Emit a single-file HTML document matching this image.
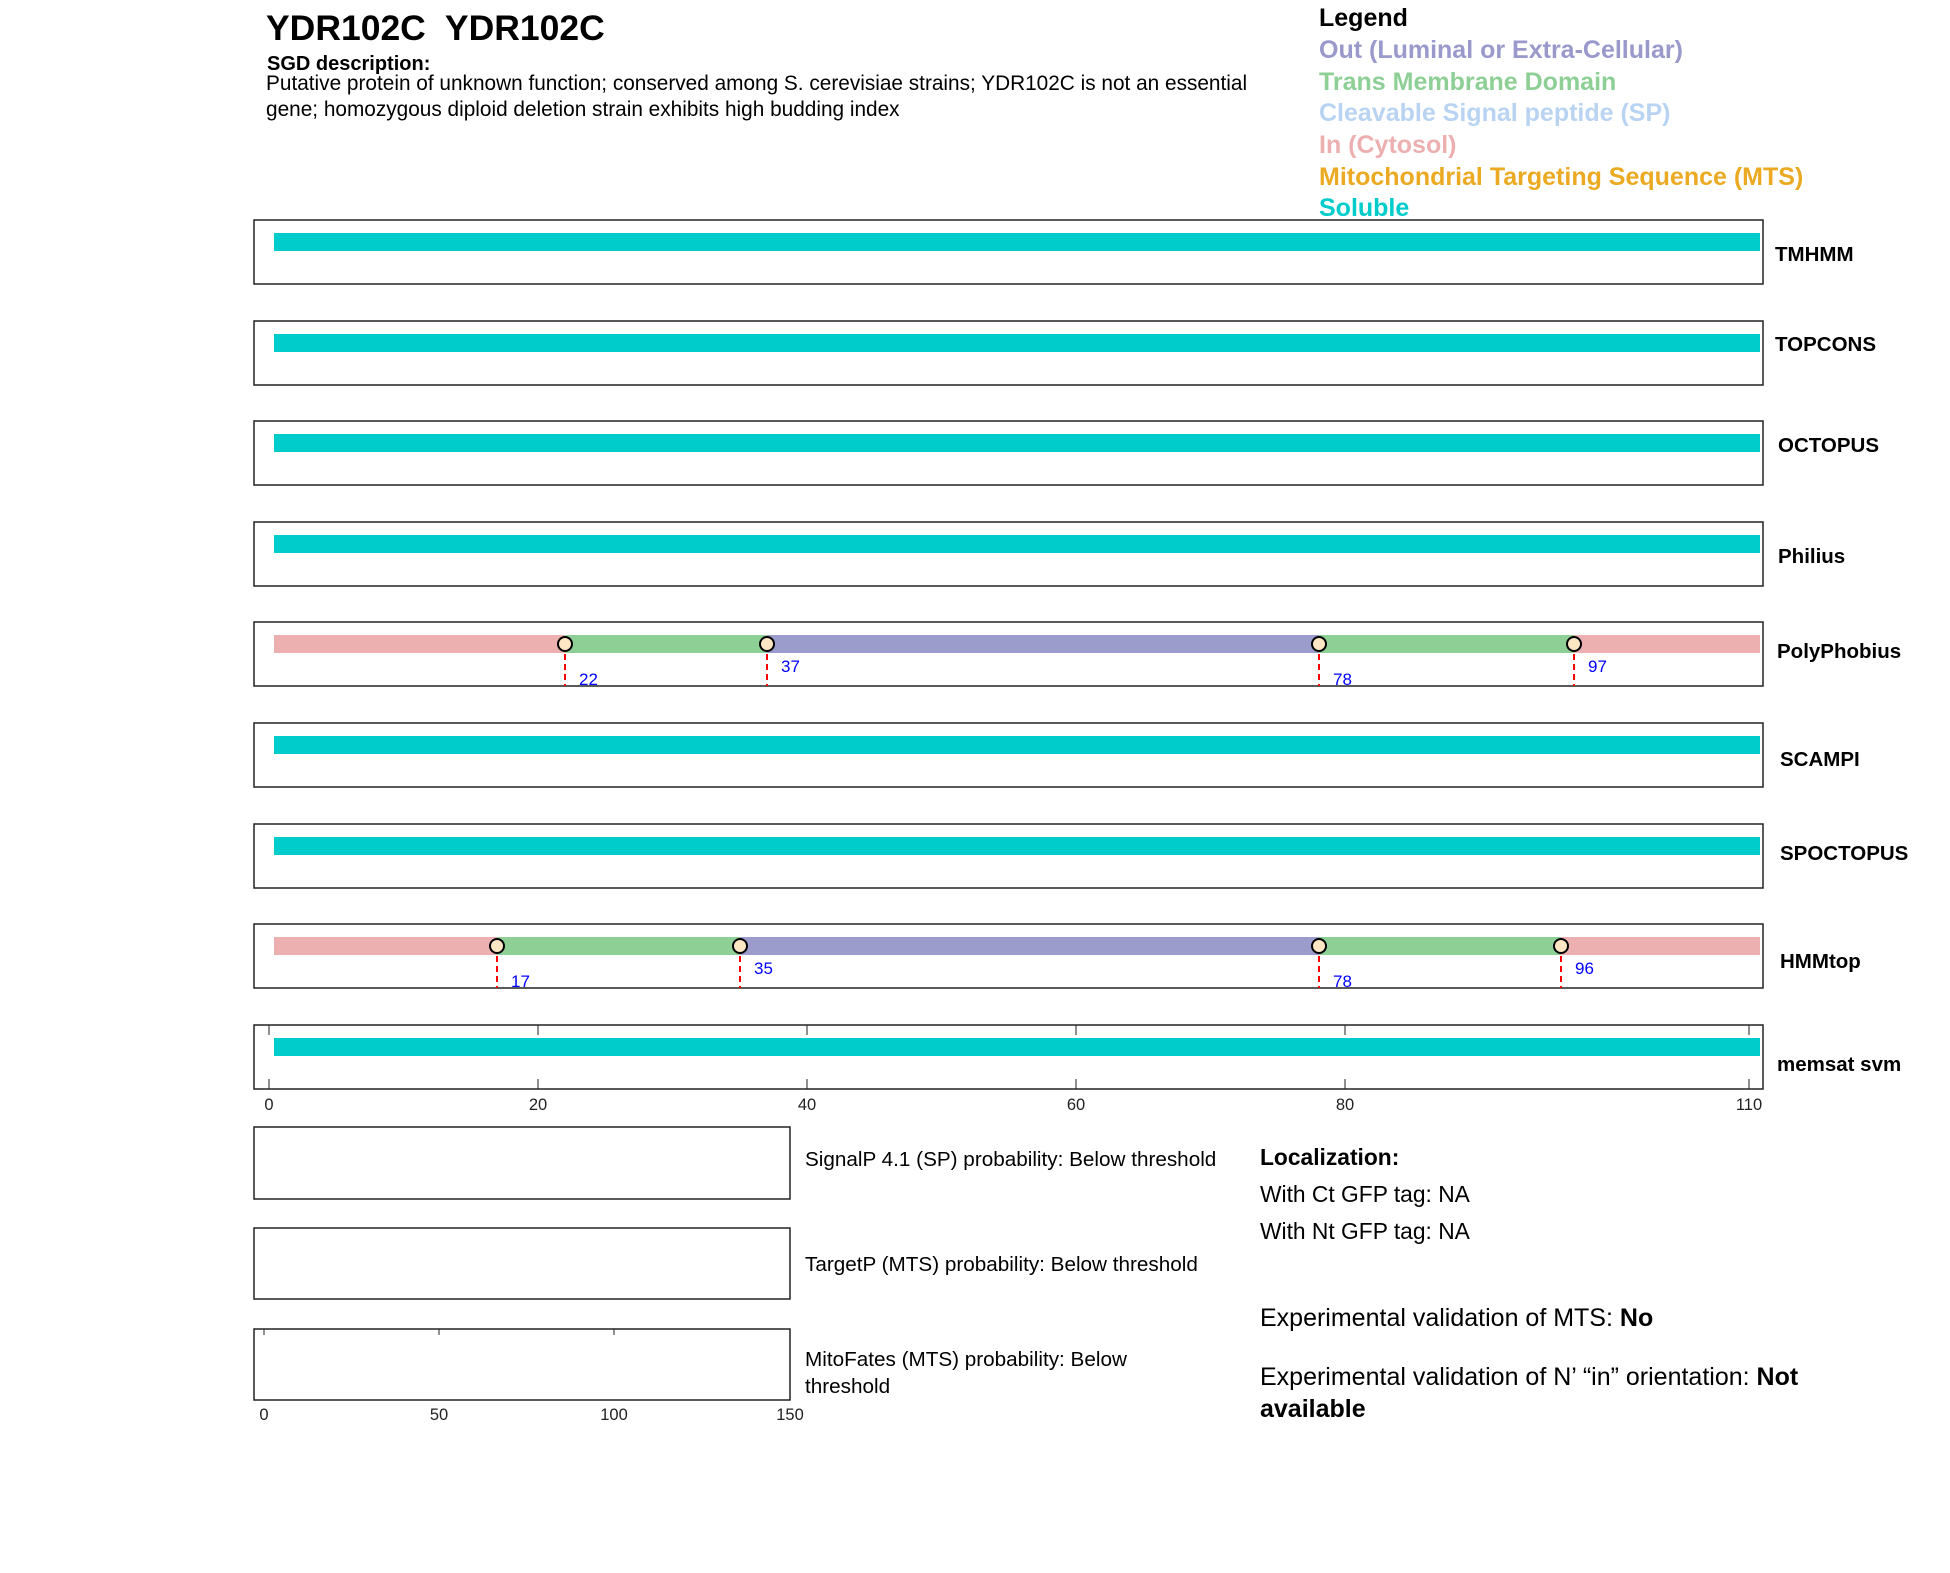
<!DOCTYPE html>
<html><head><meta charset="utf-8"><style>
html,body{margin:0;padding:0;background:#fff}
svg{display:block}
text{font-family:"Liberation Sans",Arial,sans-serif}
</style></head><body>
<svg width="1950" height="1573" viewBox="0 0 1950 1573" xmlns="http://www.w3.org/2000/svg">
<text x="266" y="40" font-size="35.5" font-weight="bold" xml:space="preserve">YDR102C  YDR102C</text>
<text x="267" y="70" font-size="20" font-weight="bold">SGD description:</text>
<text x="266" y="90" font-size="20.8">Putative protein of unknown function; conserved among S. cerevisiae strains; YDR102C is not an essential</text>
<text x="266" y="116" font-size="20.8">gene; homozygous diploid deletion strain exhibits high budding index</text>

<g font-size="25" font-weight="bold">
<text x="1319" y="26" fill="#000">Legend</text>
<text x="1319" y="58" fill="#9999CC">Out (Luminal or Extra-Cellular)</text>
<text x="1319" y="90" fill="#8ECF96">Trans Membrane Domain</text>
<text x="1319" y="121" fill="#B8D4F2">Cleavable Signal peptide (SP)</text>
<text x="1319" y="153" fill="#EDB0B0">In (Cytosol)</text>
<text x="1319" y="185" fill="#EBAA22">Mitochondrial Targeting Sequence (MTS)</text>
<text x="1319" y="216" fill="#00CCCC">Soluble</text>
</g>

<g fill="none" stroke="#222" stroke-width="1.5">
<rect x="254" y="220" width="1509" height="64"/>
<rect x="254" y="321" width="1509" height="64"/>
<rect x="254" y="421" width="1509" height="64"/>
<rect x="254" y="522" width="1509" height="64"/>
<rect x="254" y="622" width="1509" height="64"/>
<rect x="254" y="723" width="1509" height="64"/>
<rect x="254" y="824" width="1509" height="64"/>
<rect x="254" y="924" width="1509" height="64"/>
<rect x="254" y="1025" width="1509" height="64"/>
</g>

<g fill="#00CCCC">
<rect x="274" y="233" width="1486" height="18"/>
<rect x="274" y="334" width="1486" height="18"/>
<rect x="274" y="434" width="1486" height="18"/>
<rect x="274" y="535" width="1486" height="18"/>
<rect x="274" y="736" width="1486" height="18"/>
<rect x="274" y="837" width="1486" height="18"/>
<rect x="274" y="1038" width="1486" height="18"/>
</g>

<g>
<rect x="274" y="635" width="291" height="18" fill="#EDB0B0"/>
<rect x="565" y="635" width="202" height="18" fill="#8ECF96"/>
<rect x="767" y="635" width="552" height="18" fill="#9C9CCC"/>
<rect x="1319" y="635" width="255" height="18" fill="#8ECF96"/>
<rect x="1574" y="635" width="186" height="18" fill="#EDB0B0"/>
<g stroke="#f00" stroke-width="2" stroke-dasharray="6,4">
<line x1="565" y1="644" x2="565" y2="686"/><line x1="767" y1="644" x2="767" y2="686"/>
<line x1="1319" y1="644" x2="1319" y2="686"/><line x1="1574" y1="644" x2="1574" y2="686"/>
</g>
<g fill="#FCE6C4" stroke="#000" stroke-width="2">
<circle cx="565" cy="644" r="7"/><circle cx="767" cy="644" r="7"/>
<circle cx="1319" cy="644" r="7"/><circle cx="1574" cy="644" r="7"/>
</g>
<g fill="#00f" font-size="17">
<text x="579" y="685">22</text><text x="781" y="672">37</text>
<text x="1333" y="685">78</text><text x="1588" y="672">97</text>
</g>
</g>

<g>
<rect x="274" y="937" width="223" height="18" fill="#EDB0B0"/>
<rect x="497" y="937" width="243" height="18" fill="#8ECF96"/>
<rect x="740" y="937" width="579" height="18" fill="#9C9CCC"/>
<rect x="1319" y="937" width="242" height="18" fill="#8ECF96"/>
<rect x="1561" y="937" width="199" height="18" fill="#EDB0B0"/>
<g stroke="#f00" stroke-width="2" stroke-dasharray="6,4">
<line x1="497" y1="946" x2="497" y2="988"/><line x1="740" y1="946" x2="740" y2="988"/>
<line x1="1319" y1="946" x2="1319" y2="988"/><line x1="1561" y1="946" x2="1561" y2="988"/>
</g>
<g fill="#FCE6C4" stroke="#000" stroke-width="2">
<circle cx="497" cy="946" r="7"/><circle cx="740" cy="946" r="7"/>
<circle cx="1319" cy="946" r="7"/><circle cx="1561" cy="946" r="7"/>
</g>
<g fill="#00f" font-size="17">
<text x="511" y="987">17</text><text x="754" y="974">35</text>
<text x="1333" y="987">78</text><text x="1575" y="974">96</text>
</g>
</g>

<g stroke="#222" stroke-width="1">
<line x1="269" y1="1025" x2="269" y2="1035"/><line x1="269" y1="1089" x2="269" y2="1079"/>
<line x1="538" y1="1025" x2="538" y2="1035"/><line x1="538" y1="1089" x2="538" y2="1079"/>
<line x1="807" y1="1025" x2="807" y2="1035"/><line x1="807" y1="1089" x2="807" y2="1079"/>
<line x1="1076" y1="1025" x2="1076" y2="1035"/><line x1="1076" y1="1089" x2="1076" y2="1079"/>
<line x1="1345" y1="1025" x2="1345" y2="1035"/><line x1="1345" y1="1089" x2="1345" y2="1079"/>
<line x1="1749" y1="1025" x2="1749" y2="1035"/><line x1="1749" y1="1089" x2="1749" y2="1079"/>
</g>
<g font-size="16.5" fill="#222" text-anchor="middle">
<text x="269" y="1110">0</text><text x="538" y="1110">20</text><text x="807" y="1110">40</text>
<text x="1076" y="1110">60</text><text x="1345" y="1110">80</text><text x="1749" y="1110">110</text>
</g>

<g font-size="20.5" font-weight="bold">
<text x="1775" y="261">TMHMM</text>
<text x="1775" y="351">TOPCONS</text>
<text x="1778" y="452">OCTOPUS</text>
<text x="1778" y="563">Philius</text>
<text x="1777" y="658">PolyPhobius</text>
<text x="1780" y="766">SCAMPI</text>
<text x="1780" y="860">SPOCTOPUS</text>
<text x="1780" y="968">HMMtop</text>
<text x="1777" y="1071">memsat svm</text>
</g>

<g fill="none" stroke="#222" stroke-width="1.5">
<rect x="254" y="1127" width="536" height="72"/>
<rect x="254" y="1228" width="536" height="71"/>
<rect x="254" y="1329" width="536" height="71"/>
</g>
<g stroke="#222" stroke-width="1">
<line x1="264" y1="1329" x2="264" y2="1335"/><line x1="439" y1="1329" x2="439" y2="1335"/><line x1="614" y1="1329" x2="614" y2="1335"/>
</g>
<g font-size="16.5" fill="#222" text-anchor="middle">
<text x="264" y="1420">0</text><text x="439" y="1420">50</text><text x="614" y="1420">100</text><text x="790" y="1420">150</text>
</g>
<g font-size="20.7">
<text x="805" y="1166">SignalP 4.1 (SP) probability: Below threshold</text>
<text x="805" y="1271">TargetP (MTS) probability: Below threshold</text>
<text x="805" y="1366">MitoFates (MTS) probability: Below</text>
<text x="805" y="1393">threshold</text>
</g>
<text x="1260" y="1165" font-size="22.8" font-weight="bold">Localization:</text>
<text x="1260" y="1202" font-size="22.8">With Ct GFP tag: NA</text>
<text x="1260" y="1239" font-size="22.8">With Nt GFP tag: NA</text>
<text x="1260" y="1326" font-size="25">Experimental validation of MTS: <tspan font-weight="bold">No</tspan></text>
<text x="1260" y="1385" font-size="25">Experimental validation of N’ “in” orientation: <tspan font-weight="bold">Not</tspan></text>
<text x="1260" y="1417" font-size="25" font-weight="bold">available</text>
</svg>
</body></html>
